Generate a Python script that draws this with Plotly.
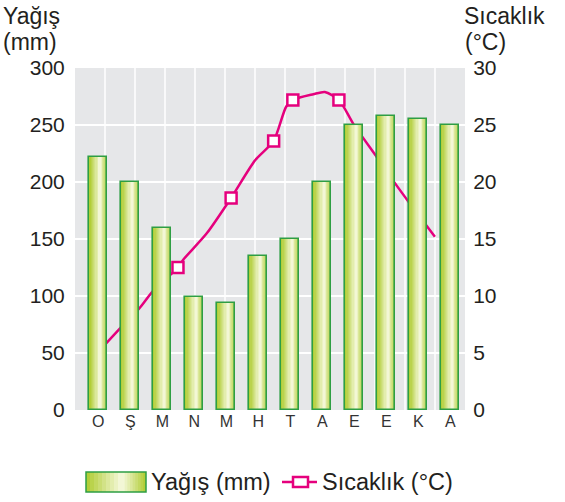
import plotly.graph_objects as go

# ---------------- data ----------------
months = ["O", "Ş", "M", "N", "M", "H", "T", "A", "E", "E", "K", "A"]
rain_mm = [222, 200, 160, 99, 94, 135, 150, 200, 250, 258, 255, 250]

# temperature curve (positions along the month axis, °C)
temp_curve_pos = [0.0, 0.71, 1.28, 1.70, 2.49, 2.66, 3.39, 4.15, 4.90, 5.48,
                  5.87, 6.08, 6.72, 7.08, 7.52, 7.97, 8.70, 9.27, 9.74, 10.52]
temp_curve_c = [5.1, 7.25, 8.9, 10.4, 12.5, 13.2, 15.5, 18.6, 21.9, 23.6,
                26.6, 27.2, 27.7, 27.9, 27.2, 25.1, 22.2, 19.9, 18.1, 15.2]
# marked temperature points
temp_mark_pos = [2.49, 4.15, 5.48, 6.08, 7.52]
temp_mark_c = [12.5, 18.6, 23.6, 27.2, 27.2]

rain_ticks = [0, 50, 100, 150, 200, 250, 300]
temp_ticks = [0, 5, 10, 15, 20, 25, 30]

# ---------------- styles ----------------
FONT = "Liberation Sans, Arial, sans-serif"
TXT = "#231f20"
MAGENTA = "#e5007d"
GREEN_LINE = "#2e9e44"
EDGE = (178, 206, 56)
HIGH = (243, 247, 214)
BG = "#e6e7e9"

L, R, T, B = 75, 100, 68, 92
W, H = 565, 502
PW, PH = W - L - R, H - T - B


def px_x(px):
    return (px - L) / PW


def px_y(py):
    return (H - B - py) / PH


def mix(t):
    c = [round(EDGE[k] + (HIGH[k] - EDGE[k]) * t) for k in range(3)]
    return "rgb(%d,%d,%d)" % tuple(c)


fig = go.Figure()

# temperature line (behind bars)
fig.add_trace(go.Scatter(
    x=temp_curve_pos, y=temp_curve_c, mode="lines",
    line=dict(color=MAGENTA, width=2.5, shape="spline", smoothing=0.7),
    xaxis="x", yaxis="y", showlegend=False, hoverinfo="skip"))

# gradient bars (layered)
BW = 0.5625
N = 9
xs = list(range(len(months)))
for j in range(N):
    f = 1 - j / N
    w = BW * f
    shift = BW * 0.10 * (j / N)
    fig.add_trace(go.Bar(
        x=xs, y=rain_mm, width=w, offset=-w / 2 + shift,
        marker=dict(color=mix(j / (N - 1)), line=dict(width=0)),
        xaxis="x", yaxis="y2", showlegend=False, hoverinfo="skip"))
# outline
fig.add_trace(go.Bar(
    x=xs, y=rain_mm, width=BW, offset=-BW / 2,
    marker=dict(color="rgba(0,0,0,0)", line=dict(color=GREEN_LINE, width=1.6)),
    xaxis="x", yaxis="y2", showlegend=False, name="Yağış (mm)"))

# temperature markers (above bars)
fig.add_trace(go.Scatter(
    x=temp_mark_pos, y=temp_mark_c, mode="markers",
    marker=dict(symbol="square", size=11, color="white",
                line=dict(color=MAGENTA, width=2.5)),
    xaxis="x", yaxis="y3", showlegend=False, name="Sıcaklık (°C)"))

# vertical background grid
shapes = []
for i in range(1, 13):
    shapes.append(dict(type="line", xref="x domain", yref="y domain",
                       x0=i / 13, x1=i / 13, y0=0, y1=1,
                       line=dict(color="white", width=1.5), layer="below"))

# custom legend: gradient swatch
sx0, sx1, sy0, sy1 = 86, 146, 472, 492
sw = sx1 - sx0
for j in range(N):
    f = 1 - j / N
    w = sw * f
    c = (sx0 + sx1) / 2 + sw * 0.10 * (j / N)
    shapes.append(dict(type="rect", xref="paper", yref="paper",
                       x0=px_x(c - w / 2), x1=px_x(c + w / 2),
                       y0=px_y(sy1), y1=px_y(sy0),
                       fillcolor=mix(j / (N - 1)), line=dict(width=0)))
shapes.append(dict(type="rect", xref="paper", yref="paper",
                   x0=px_x(sx0), x1=px_x(sx1), y0=px_y(sy1), y1=px_y(sy0),
                   fillcolor="rgba(0,0,0,0)", line=dict(color=GREEN_LINE, width=1.5)))
# legend line + marker
shapes.append(dict(type="line", xref="paper", yref="paper",
                   x0=px_x(282), x1=px_x(317), y0=px_y(482), y1=px_y(482),
                   line=dict(color=MAGENTA, width=2.5)))
shapes.append(dict(type="rect", xref="paper", yref="paper",
                   x0=px_x(293), x1=px_x(308), y0=px_y(487), y1=px_y(477),
                   fillcolor="white", line=dict(color=MAGENTA, width=2.5)))


def label(text, x, y, size, anchor="left"):
    return dict(text=text, xref="paper", yref="paper", x=px_x(x), y=px_y(y),
                xanchor=anchor, yanchor="middle", showarrow=False, borderpad=0,
                font=dict(family=FONT, size=size, color=TXT))


annotations = [
    label("Yağış (mm)", 150, 482, 23.5),
    label("Sıcaklık (°C)", 321, 482, 23.5),
    label("Yağış", 2, 16, 23),
    label("(mm)", 2, 42, 23),
    label("Sıcaklık", 463, 16, 23),
    label("(°C)", 464, 42, 23),
]

fig.update_layout(
    width=W, height=H,
    margin=dict(l=L, r=R, t=T, b=B, pad=0),
    paper_bgcolor="white", plot_bgcolor=BG,
    barmode="overlay", bargap=0,
    showlegend=False,
    font=dict(family=FONT, color=TXT),
    shapes=shapes, annotations=annotations,
    xaxis=dict(range=[-0.728, 11.46], tickvals=xs, ticktext=months,
               showgrid=False, zeroline=False, showline=False, ticks="",
               tickfont=dict(family=FONT, size=16, color="#333333"), fixedrange=True),
    yaxis=dict(side="right", range=[0, 30], tickvals=temp_ticks,
               showgrid=True, gridcolor="white", gridwidth=1.5,
               zeroline=False, showline=False,
               ticks="outside", ticklen=3, tickcolor="rgba(0,0,0,0)",
               tickfont=dict(family=FONT, size=21, color=TXT)),
    yaxis2=dict(overlaying="y", side="left", range=[0, 300], tickvals=rain_ticks,
                showgrid=False, zeroline=False, showline=False,
                ticks="outside", ticklen=5, tickcolor="rgba(0,0,0,0)",
                tickfont=dict(family=FONT, size=21, color=TXT)),
    yaxis3=dict(overlaying="y", range=[0, 30], visible=False),
)

fig.write_html("out.html",
               config={"displayModeBar": False},
               post_script="document.body.style.margin='0';"
                           "document.body.style.overflow='hidden';")
